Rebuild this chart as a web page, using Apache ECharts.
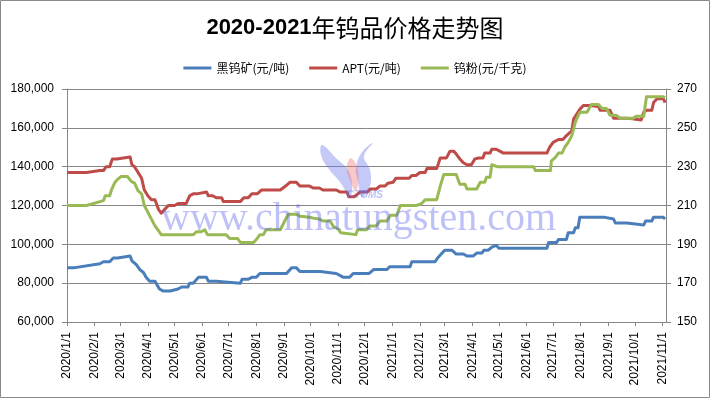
<!DOCTYPE html>
<html><head><meta charset="utf-8">
<script src="https://cdn.jsdelivr.net/npm/echarts@6/dist/echarts.min.js"></script>
<style>html,body{margin:0;padding:0;background:#fff}#c{width:710px;height:398px}</style>
</head><body><div id="c"></div>
<script>
const chartTitle = '2020-2021年钨品价格走势图';
const seriesNames = ['黑钨矿(元/吨)', 'APT(元/吨)', '钨粉(元/千克)'];
const xTickLabels = ['2020/1/1','2020/2/1','2020/3/1','2020/4/1','2020/5/1','2020/6/1','2020/7/1','2020/8/1','2020/9/1','2020/10/1','2020/11/1','2020/12/1','2021/1/1','2021/2/1','2021/3/1','2021/4/1','2021/5/1','2021/6/1','2021/7/1','2021/8/1','2021/9/1','2021/10/1','2021/11/1'];

const oreDates = ['2020-01-01','2020-01-10','2020-01-12','2020-02-07','2020-02-11','2020-02-18','2020-02-22','2020-02-27','2020-02-29','2020-03-12','2020-03-14','2020-03-19','2020-03-23','2020-03-27','2020-03-30','2020-04-03','2020-04-09','2020-04-11','2020-04-14','2020-04-18','2020-04-26','2020-04-28','2020-05-05','2020-05-09','2020-05-16','2020-05-18','2020-05-22','2020-05-24','2020-05-28','2020-06-06','2020-06-08','2020-06-17','2020-06-19','2020-07-14','2020-07-16','2020-07-23','2020-07-27','2020-08-01','2020-08-05','2020-09-04','2020-09-06','2020-09-10','2020-09-15','2020-09-19','2020-10-12','2020-10-14','2020-10-30','2020-11-03','2020-11-07','2020-11-14','2020-11-18','2020-12-06','2020-12-11','2020-12-26','2020-12-29','2021-01-21','2021-01-23','2021-02-18','2021-02-22','2021-03-01','2021-03-09','2021-03-14','2021-03-22','2021-03-26','2021-04-02','2021-04-06','2021-04-12','2021-04-14','2021-04-19','2021-04-23','2021-04-25','2021-04-28','2021-05-01','2021-06-24','2021-06-26','2021-07-05','2021-07-07','2021-07-16','2021-07-18','2021-07-24','2021-07-26','2021-07-29','2021-07-31','2021-08-27','2021-08-29','2021-09-07','2021-09-09','2021-09-22','2021-09-24','2021-10-11','2021-10-13','2021-10-20','2021-10-22','2021-11-02','2021-11-04'];
const oreValues = [88000,88000,89000,90000,91000,91000,93000,93000,94000,94000,91500,89500,87000,85500,83000,81000,81000,80000,77000,76000,76000,77000,77000,78000,78000,80000,80000,81000,83000,83000,81000,81000,80000,80000,82000,82000,83000,83000,85000,85000,86000,88000,88000,86000,86000,85000,85000,84000,83000,83000,85000,85000,87000,87000,88500,88500,91000,91000,93500,97000,97000,95000,95000,94000,94000,95500,95500,97000,97000,98500,99500,99500,98000,98000,101000,101000,102500,102500,106000,106000,108500,108500,114000,114000,113000,113000,111000,111000,110000,110000,112000,112000,114000,114000,113000];

const aptDates = ['2020-01-01','2020-01-23','2020-02-07','2020-02-11','2020-02-14','2020-02-18','2020-02-21','2020-02-26','2020-02-27','2020-03-12','2020-03-14','2020-03-17','2020-03-21','2020-03-25','2020-03-28','2020-04-01','2020-04-05','2020-04-09','2020-04-13','2020-04-16','2020-04-18','2020-04-20','2020-04-24','2020-05-01','2020-05-05','2020-05-14','2020-05-18','2020-05-22','2020-05-26','2020-05-28','2020-06-06','2020-06-08','2020-06-13','2020-06-17','2020-06-23','2020-06-25','2020-07-14','2020-07-18','2020-07-23','2020-07-27','2020-08-02','2020-08-07','2020-08-28','2020-09-03','2020-09-08','2020-09-15','2020-09-19','2020-09-30','2020-10-04','2020-10-11','2020-10-15','2020-10-30','2020-11-03','2020-11-11','2020-11-13','2020-11-19','2020-11-22','2020-11-26','2020-12-04','2020-12-07','2020-12-14','2020-12-18','2020-12-24','2020-12-27','2021-01-02','2021-01-05','2021-01-20','2021-01-23','2021-01-28','2021-02-01','2021-02-07','2021-02-09','2021-02-20','2021-02-24','2021-03-03','2021-03-07','2021-03-11','2021-03-14','2021-03-18','2021-03-22','2021-03-26','2021-03-31','2021-04-04','2021-04-08','2021-04-13','2021-04-15','2021-04-21','2021-04-23','2021-04-28','2021-05-02','2021-05-06','2021-06-24','2021-06-27','2021-07-01','2021-07-07','2021-07-12','2021-07-16','2021-07-22','2021-07-24','2021-07-31','2021-08-04','2021-08-12','2021-08-14','2021-08-21','2021-08-23','2021-09-03','2021-09-07','2021-09-22','2021-09-24','2021-10-08','2021-10-11','2021-10-14','2021-10-20','2021-10-22','2021-10-26','2021-11-02','2021-11-04'];
const aptValues = [137000,137000,138000,138000,140000,140000,144000,144000,145000,145000,141000,140000,137000,134000,128000,125000,123000,123000,118000,116000,116000,118000,120000,120000,121000,121000,125000,126000,126000,127000,127000,125000,125000,124000,124000,122000,122000,124000,124000,126000,126000,128000,128000,130000,132000,132000,130000,130000,129000,129000,128000,128000,127000,127000,124500,124500,125500,127000,127000,128500,128500,130000,130000,131500,132000,134000,134000,135500,135500,137000,137000,139000,139000,144500,144500,148000,148000,146500,144000,142000,141000,141000,144000,144500,144500,147000,147000,149000,149000,148000,147000,147000,150000,152500,154000,154000,156000,158500,164500,169500,171500,171500,171000,171000,169000,169000,165000,165000,164000,164000,168000,169000,169000,173000,175000,175000,173000];

const powderDates = ['2020-01-01','2020-01-23','2020-02-07','2020-02-11','2020-02-13','2020-02-18','2020-02-20','2020-02-24','2020-02-27','2020-03-02','2020-03-09','2020-03-13','2020-03-17','2020-03-21','2020-03-25','2020-03-28','2020-04-01','2020-04-05','2020-04-09','2020-04-13','2020-04-16','2020-05-22','2020-05-26','2020-05-31','2020-06-02','2020-06-04','2020-06-07','2020-06-28','2020-07-02','2020-07-11','2020-07-14','2020-07-29','2020-08-02','2020-08-05','2020-08-09','2020-08-12','2020-08-28','2020-09-02','2020-09-06','2020-09-15','2020-09-19','2020-09-30','2020-10-04','2020-10-11','2020-10-15','2020-10-23','2020-10-27','2020-11-01','2020-11-04','2020-11-06','2020-11-21','2020-11-23','2020-12-03','2020-12-07','2020-12-14','2020-12-18','2020-12-26','2020-12-30','2021-01-06','2021-01-10','2021-01-28','2021-01-30','2021-02-03','2021-02-07','2021-02-20','2021-02-24','2021-02-28','2021-03-14','2021-03-18','2021-03-24','2021-03-26','2021-04-06','2021-04-10','2021-04-15','2021-04-17','2021-04-21','2021-04-23','2021-04-25','2021-04-29','2021-05-01','2021-05-06','2021-06-09','2021-06-11','2021-06-28','2021-06-29','2021-07-03','2021-07-07','2021-07-11','2021-07-14','2021-07-18','2021-07-22','2021-07-26','2021-07-29','2021-07-31','2021-08-08','2021-08-10','2021-08-13','2021-08-21','2021-08-25','2021-08-30','2021-09-03','2021-09-10','2021-09-14','2021-09-29','2021-10-03','2021-10-11','2021-10-14','2021-11-02','2021-11-04'];
const powderValues = [210,210,212,212.5,215,215,218,222,223.5,225,225,222.5,221.5,217.5,216,210,206.5,203,199.5,197,195,195,196.5,196.5,197.5,197.5,195,195,193,193,191,191,193,195,195,197.5,197.5,202,205.5,205.5,204.5,204,203.5,203,202,202,199,198,196,195,195,197.5,197.5,199.5,199.5,202,202,205,205,210,210,211,211,213,213,220,226,226,221,221,218.5,218.5,222,222,224.5,224.5,231,230.5,230,229.5,230,230,228,228,233,234.5,237,237,240,242.5,246,253,256,258,258,259.5,262,262,260,260,256.5,256.5,255,255,256,256,266,266,265.5];

const colors = ['#4A7EBB', '#BE4B48', '#98B954'];

function toTs(s) {
  const p = s.split(/[-\/]/).map(Number);
  return Date.UTC(p[0], p[1] - 1, p[2]);
}
function pairs(dates, vals) { return dates.map((d, i) => [toTs(d), vals[i]]); }

const tickTs = xTickLabels.map(toTs);
const labelMap = {};
tickTs.forEach((t, i) => { labelMap[t] = xTickLabels[i]; });

const chart = echarts.init(document.getElementById('c'), null, {renderer: 'canvas'});
const numFont = 'Liberation Sans, Arial, sans-serif';
const axisGray = '#868686';

chart.setOption({
  animation: false,
  backgroundColor: '#fff',
  title: {
    text: '{a|2020-2021}{b|年钨品价格走势图}',
    left: 'center',
    top: 11,
    textStyle: {
      rich: {
        a: {fontSize: 22, fontWeight: 'bold', fontFamily: numFont, color: '#000'},
        b: {fontSize: 24, fontWeight: 'normal', fontFamily: 'Noto Sans CJK SC', color: '#000'}
      }
    }
  },
  legend: {
    top: 57,
    left: 'center',
    icon: 'rect',
    itemWidth: 28,
    itemHeight: 3,
    itemGap: 20,
    data: seriesNames,
    textStyle: {fontSize: 12, fontFamily: 'Noto Sans CJK SC', color: '#000'}
  },
  grid: {left: 67, right: 44, top: 89, bottom: 76, containLabel: false},
  xAxis: {
    type: 'value',
    min: toTs('2020/1/1'),
    max: toTs('2021/11/5'),
    axisLine: {show: true, onZero: false, lineStyle: {color: axisGray, width: 1}},
    axisTick: {show: true, length: 4, lineStyle: {color: axisGray}, customValues: tickTs},
    splitLine: {show: false},
    axisLabel: {
      customValues: tickTs,
      rotate: 90,
      margin: 10,
      fontSize: 12,
      fontFamily: numFont,
      color: '#000',
      hideOverlap: false,
      showMinLabel: true,
      showMaxLabel: true,
      formatter: function (v) {
        if (labelMap[v]) return labelMap[v];
        const d = new Date(v);
        return d.getUTCFullYear() + '/' + (d.getUTCMonth() + 1) + '/' + d.getUTCDate();
      }
    }
  },
  yAxis: [
    {
      type: 'value', min: 60000, max: 180000, interval: 20000,
      axisLine: {show: true, lineStyle: {color: axisGray}},
      axisTick: {show: true, length: 5, lineStyle: {color: axisGray}},
      splitLine: {show: true, lineStyle: {color: axisGray, width: 1}},
      axisLabel: {
        margin: 13, fontSize: 12, fontFamily: numFont, color: '#000',
        formatter: v => v.toLocaleString('en-US')
      }
    },
    {
      type: 'value', min: 150, max: 270, interval: 20, position: 'right',
      axisLine: {show: true, lineStyle: {color: axisGray}},
      axisTick: {show: true, length: 5, lineStyle: {color: axisGray}},
      splitLine: {show: false},
      axisLabel: {margin: 11, fontSize: 12, fontFamily: numFont, color: '#000'}
    }
  ],
  series: [
    {name: seriesNames[0], type: 'line', yAxisIndex: 0, data: pairs(oreDates, oreValues),
     showSymbol: false, color: colors[0], lineStyle: {width: 3, color: colors[0], join: 'round'}},
    {name: seriesNames[1], type: 'line', yAxisIndex: 0, data: pairs(aptDates, aptValues),
     showSymbol: false, color: colors[1], lineStyle: {width: 3, color: colors[1], join: 'round'}},
    {name: seriesNames[2], type: 'line', yAxisIndex: 1, data: pairs(powderDates, powderValues),
     showSymbol: false, color: colors[2], lineStyle: {width: 3, color: colors[2], join: 'round'}}
  ],
  graphic: [
    {type: 'rect', z: 200, silent: true,
     shape: {x: 0.5, y: 0.5, width: 709, height: 397},
     style: {fill: 'none', stroke: '#898989', lineWidth: 1}},
    {type: 'polygon', z: 140, silent: true,
     shape: {points: [[322,145],[336,158],[348,170],[352,184],[350,196],[340,182],[328,168],[321,155]], smooth: 0.4},
     style: {fill: 'rgba(110,120,235,0.4)'}},
    {type: 'polygon', z: 140, silent: true,
     shape: {points: [[373,143],[364,156],[370,170],[370,186],[362,197],[358,182],[356,168],[362,152]], smooth: 0.4},
     style: {fill: 'rgba(110,120,235,0.4)'}},
    {type: 'polygon', z: 140, silent: true,
     shape: {points: [[351,158],[358,170],[356,191],[348,175],[347,165]], smooth: 0.4},
     style: {fill: 'rgba(240,120,120,0.4)'}},
    {type: 'text', z: 150, silent: true, left: 161, top: 199,
     style: {text: 'www.chinatungsten.com', font: '40px "Liberation Serif", serif', fill: 'rgba(90,100,235,0.4)'}},
    {type: 'text', z: 150, silent: true, left: 347, top: 190,
     style: {text: 'CTOMS', font: 'italic bold 10px "Liberation Sans", sans-serif', fill: 'rgba(90,100,235,0.4)'}}
  ]
});
</script>
</body></html>
